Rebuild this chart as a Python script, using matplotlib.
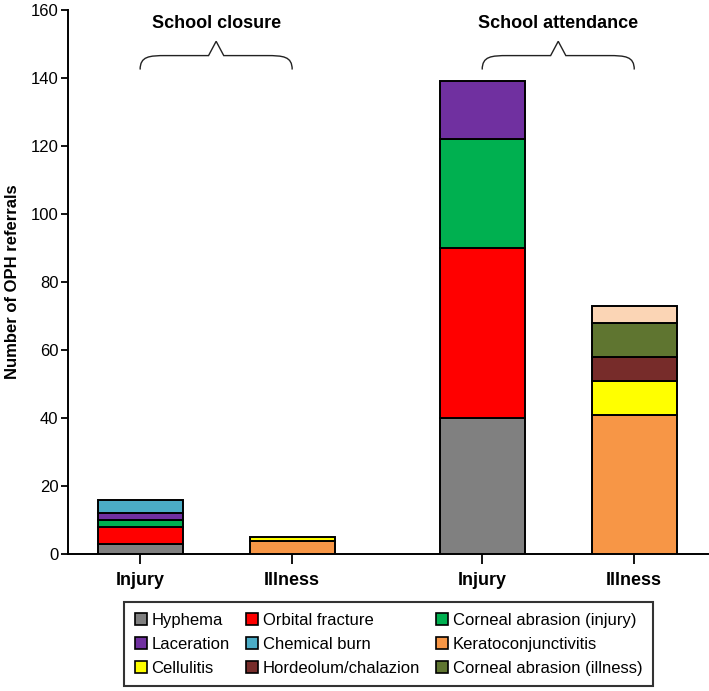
import numpy as np
import matplotlib
matplotlib.use("Agg")
import matplotlib.pyplot as plt
from matplotlib.path import Path
from matplotlib.patches import PathPatch, Patch

plt.rcParams["font.family"] = ["Liberation Sans", "DejaVu Sans"]

# --- data ---
categories = ["Injury", "Illness", "Injury", "Illness"]
positions = [1.0, 2.0, 3.25, 4.25]
groups = ["School closure", "School attendance"]

hyphema = [3, 0, 40, 0]
orbital_fracture = [5, 0, 50, 0]
corneal_injury = [2, 0, 32, 0]
laceration = [2, 0, 17, 0]
chemical_burn = [4, 0, 0, 0]
keratoconj = [0, 4, 0, 41]
cellulitis = [0, 1, 0, 10]
hordeolum = [0, 0, 0, 7]
corneal_illness = [0, 0, 0, 10]
other = [0, 0, 0, 5]

series = [
    ("Hyphema", hyphema, "#808080"),
    ("Orbital fracture", orbital_fracture, "#ff0000"),
    ("Corneal abrasion (injury)", corneal_injury, "#00b050"),
    ("Laceration", laceration, "#7030a0"),
    ("Chemical burn", chemical_burn, "#4bacc6"),
    ("Keratoconjunctivitis", keratoconj, "#f79646"),
    ("Cellulitis", cellulitis, "#ffff00"),
    ("Hordeolum/chalazion", hordeolum, "#772c2a"),
    ("Corneal abrasion (illness)", corneal_illness, "#5f7530"),
    (None, other, "#fbd5b5"),
]

fig = plt.figure(figsize=(7.09, 6.91), dpi=100)
ax = fig.add_axes([0.096, 0.198, 0.903, 0.7875])

bottom = np.zeros(len(categories))
for name, vals, col in series:
    v = np.array(vals, dtype=float)
    m = v > 0
    ax.bar(np.array(positions)[m], v[m], bottom=bottom[m], width=0.56,
           color=col, edgecolor="black", linewidth=1.4, zorder=3)
    bottom += v

ax.set_xlim(0.526, 4.737)
ax.set_ylim(0, 160)
ax.set_yticks(range(0, 161, 20))
ax.set_xticks(positions)
ax.set_xticklabels(categories, fontsize=13, fontweight="bold")
ax.tick_params(axis="y", labelsize=12, length=5, width=1.3, pad=2)
ax.tick_params(axis="x", length=7, width=1.3, pad=6)
ax.set_ylabel("Number of OPH referrals", fontsize=12, fontweight="bold")
ax.yaxis.set_label_coords(-0.075, 0.5)
for s in ("top", "right"):
    ax.spines[s].set_visible(False)
for s in ("left", "bottom"):
    ax.spines[s].set_linewidth(1.4)


def brace(ax, x0, x1, y_end, y_h, y_peak, label):
    xm = (x0 + x1) / 2
    cw = 0.17  # curve width in data units
    pk = 0.05
    verts = [
        (x0, y_end), (x0, y_h - 0.2), (x0 + cw * 0.35, y_h), (x0 + cw, y_h),
        (xm - pk, y_h), (xm, y_peak), (xm + pk, y_h),
        (x1 - cw, y_h), (x1 - cw * 0.35, y_h), (x1, y_h - 0.2), (x1, y_end),
    ]
    codes = [Path.MOVETO, Path.CURVE4, Path.CURVE4, Path.CURVE4,
             Path.LINETO, Path.LINETO, Path.LINETO,
             Path.LINETO, Path.CURVE4, Path.CURVE4, Path.CURVE4]
    ax.add_patch(PathPatch(Path(verts, codes), facecolor="none",
                           edgecolor="#222222", lw=1.0, zorder=4))
    ax.text(xm, 156, label, ha="center", va="center", fontsize=13,
            fontweight="bold")


brace(ax, positions[0], positions[1], 142.5, 146.6, 150.8, groups[0])
brace(ax, positions[2], positions[3], 142.5, 146.6, 150.8, groups[1])

# legend (row-wise order as in the reference)
handles = {n: Patch(facecolor=c, edgecolor="black", linewidth=1.2)
           for n, _, c in series if n}
order = ["Hyphema", "Laceration", "Cellulitis",
         "Orbital fracture", "Chemical burn", "Hordeolum/chalazion",
         "Corneal abrasion (injury)", "Keratoconjunctivitis", "Corneal abrasion (illness)"]
leg = fig.legend([handles[n] for n in order], order, ncol=3, loc="upper center",
                 bbox_to_anchor=(0.548, 0.1288), fontsize=12, frameon=True,
                 fancybox=False, edgecolor="black", handlelength=0.72,
                 handleheight=0.72, handletextpad=0.3, columnspacing=0.95,
                 labelspacing=0.54, borderpad=0.64, borderaxespad=0)
leg.get_frame().set_linewidth(1.5)

fig.savefig("out.png", dpi=100)
